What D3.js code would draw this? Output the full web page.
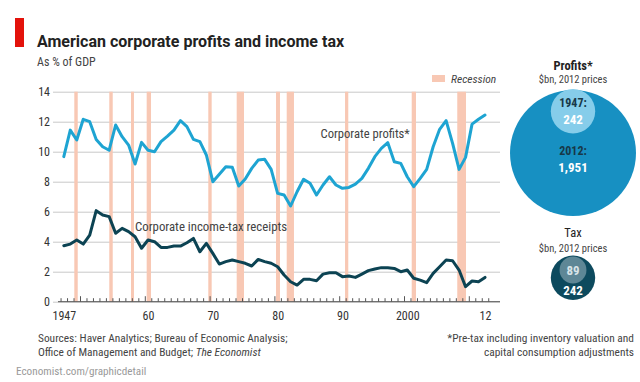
<!DOCTYPE html>
<html><head><meta charset="utf-8">
<script src="https://cdn.jsdelivr.net/npm/d3@7"></script>
<style>
html,body{margin:0;padding:0;background:#fff;}
svg{display:block;}
text{font-family:"Liberation Sans Narrow","Roboto Condensed","DejaVu Sans Condensed",Roboto,sans-serif;}
</style></head>
<body><svg id="c" width="640" height="382"></svg>
<script>
const years = [1947,1948,1949,1950,1951,1952,1953,1954,1955,1956,1957,1958,1959,1960,1961,1962,1963,1964,1965,1966,1967,1968,1969,1970,1971,1972,1973,1974,1975,1976,1977,1978,1979,1980,1981,1982,1983,1984,1985,1986,1987,1988,1989,1990,1991,1992,1993,1994,1995,1996,1997,1998,1999,2000,2001,2002,2003,2004,2005,2006,2007,2008,2009,2010,2011,2012];
const profits = [9.67,11.44,10.78,12.16,12.0,10.82,10.33,10.1,11.78,11.0,10.44,9.18,10.62,10.1,10.0,10.67,11.04,11.44,12.07,11.67,10.82,10.67,9.78,8.0,8.49,9.0,8.96,7.71,8.18,8.89,9.44,9.49,8.82,7.22,7.11,6.38,7.33,8.16,7.89,7.11,7.78,8.33,7.78,7.56,7.62,7.84,8.22,8.89,9.67,10.22,10.6,9.33,9.22,8.33,7.67,8.22,8.82,10.33,11.49,12.07,10.56,8.82,9.62,11.84,12.16,12.44];
const taxReceipts = [3.73,3.84,4.11,3.84,4.44,6.07,5.78,5.67,4.56,4.89,4.67,4.33,3.56,4.11,4.0,3.62,3.62,3.71,3.71,3.93,4.22,3.33,3.89,3.22,2.51,2.67,2.78,2.67,2.56,2.38,2.82,2.67,2.56,2.33,1.78,1.33,1.11,1.49,1.49,1.4,1.84,1.93,1.93,1.67,1.71,1.62,1.84,2.07,2.18,2.27,2.27,2.22,2.0,2.11,1.56,1.44,1.27,1.89,2.33,2.78,2.73,2.11,1.0,1.38,1.33,1.62];
const recessionStart = [1949.12,1954.52,1957.87,1960.29,1969.8,1974.18,1980.25,1981.9,1990.9,2001.19,2008.22];
const recessionEnd   = [1949.65,1955.05,1958.33,1960.96,1970.32,1975.31,1980.86,1983.02,1991.4,2001.85,2009.57];
const yTicks = [0,2,4,6,8,10,12,14];
const xLabelYears = [1947,1960,1970,1980,1990,2000,2012];
const xLabelText = ["1947","60","70","80","90","2000","12"];
const circleLabels = ["1947:","2012:"];
const profitsBn = [242,1951];
const taxBn = [89,242];

const svg = d3.select("#c");
const x = d3.scaleLinear().domain([1950,2010]).range([80,468.8]);
const y = d3.scaleLinear().domain([0,14]).range([301.7,91.7]);
const L = 53, R = 500;
const NARROW = '"Liberation Sans Narrow","Roboto Condensed",Roboto,sans-serif';

// header
svg.append("rect").attr("x",15).attr("y",18).attr("width",9).attr("height",29).attr("fill","#e3120b");
svg.append("text").attr("x",37).attr("y",47).attr("font-size",16).attr("font-weight","bold").attr("fill","#222")
  .style("font-family","Roboto,sans-serif")
  .text("American corporate profits and income tax");
svg.append("text").attr("x",37).attr("y",66).attr("font-size",12).attr("fill","#444").text("As % of GDP");

// gridlines + y labels
const yAxis = d3.axisLeft(y).tickValues(yTicks).tickSize(-(R-L)).tickFormat(d3.format("d"));
const ga = svg.append("g").attr("transform",`translate(${L},0)`).call(yAxis);
ga.select(".domain").remove();
ga.selectAll(".tick line").attr("stroke","#c9c9c9").attr("stroke-width",1);
ga.selectAll(".tick text").attr("x",-3).attr("font-size",12).attr("fill","#333").style("font-family",NARROW);

// recession bars
svg.append("g").selectAll("rect").data(recessionStart).join("rect")
  .attr("x",(d)=>x(d)).attr("width",(d,i)=>x(recessionEnd[i])-x(d))
  .attr("y",y(14)).attr("height",y(0)-y(14)).attr("fill","#f8c8b4");

// x axis
svg.append("line").attr("x1",58).attr("x2",R).attr("y1",y(0)).attr("y2",y(0)).attr("stroke","#555").attr("stroke-width",1);
const tickYears = d3.range(1947,2014);
const xt = svg.append("g").attr("transform",`translate(0,${y(0)})`)
  .call(d3.axisTop(x).tickValues(tickYears).tickSize(3).tickFormat(""));
xt.select(".domain").remove();
xt.selectAll(".tick line").attr("stroke","#555").attr("y2",(d)=>d%10===0?-5.5:-3.5);
const xl = svg.append("g").attr("transform",`translate(0,${y(0)})`)
  .call(d3.axisBottom(x).tickValues(xLabelYears.map(d=>d+0.5)).tickSize(0).tickPadding(10)
    .tickFormat((d,i)=>xLabelText[i]));
xl.select(".domain").remove();
xl.selectAll("text").attr("font-size",12).attr("fill","#333").style("font-family",NARROW);

// lines
const line = d3.line().x((d,i)=>x(years[i]+0.5)).y(d=>y(d)).curve(d3.curveLinear);
svg.append("path").datum(profits).attr("d",line).attr("fill","none").attr("stroke","#1ea4d2")
  .attr("stroke-width",3).attr("stroke-linejoin","round").attr("stroke-linecap","round");
svg.append("path").datum(taxReceipts).attr("d",line).attr("fill","none").attr("stroke","#0c4353")
  .attr("stroke-width",3).attr("stroke-linejoin","round").attr("stroke-linecap","round");

svg.append("text").attr("x",320.5).attr("y",138).attr("font-size",12.6).attr("fill","#444").text("Corporate profits*");
svg.append("text").attr("x",135).attr("y",231).attr("font-size",12.8).attr("fill","#444").text("Corporate income-tax receipts");

// legend
svg.append("rect").attr("x",432).attr("y",75).attr("width",13).attr("height",7).attr("fill","#f8c8b4");
svg.append("text").attr("x",451).attr("y",83).attr("font-size",11.5).attr("font-style","italic").attr("fill","#444").text("Recession");

// footer
svg.append("text").attr("x",38).attr("y",342).attr("font-size",11.4).attr("fill","#444").text("Sources: Haver Analytics; Bureau of Economic Analysis;");
const t2 = svg.append("text").attr("x",38).attr("y",356).attr("font-size",11.4).attr("fill","#444");
t2.append("tspan").text("Office of Management and Budget; ");
t2.append("tspan").attr("font-style","italic").text("The Economist");
svg.append("text").attr("x",16).attr("y",375).attr("font-size",11.2).attr("fill","#9a9a9a").text("Economist.com/graphicdetail");
svg.append("text").attr("x",634).attr("y",342).attr("font-size",11.4).attr("fill","#444").attr("text-anchor","end").text("*Pre-tax including inventory valuation and");
svg.append("text").attr("x",634).attr("y",356).attr("font-size",11.4).attr("fill","#444").attr("text-anchor","end").text("capital consumption adjustments");

// right panel: circles
const r = d3.scaleSqrt().domain([0,1951]).range([0,63]);
const cx = 573;
svg.append("text").attr("x",cx).attr("y",70).attr("text-anchor","middle").attr("font-size",12.5).attr("font-weight","bold").attr("fill","#222").text("Profits*");
svg.append("text").attr("x",cx).attr("y",83).attr("text-anchor","middle").attr("font-size",10.5).attr("fill","#444").text("$bn, 2012 prices");
const bigTop = 90;
svg.append("circle").attr("cx",cx).attr("cy",bigTop + r(profitsBn[1])).attr("r",r(profitsBn[1])).attr("fill","#1790c2");
svg.append("circle").attr("cx",cx).attr("cy",bigTop - 1 + r(profitsBn[0])).attr("r",r(profitsBn[0])).attr("fill","#86cdea");
svg.append("text").attr("x",cx).attr("y",107).attr("text-anchor","middle").attr("font-size",12).attr("font-weight","bold").attr("fill","#173848").text(circleLabels[0]);
svg.append("text").attr("x",cx).attr("y",124).attr("text-anchor","middle").attr("font-size",13).attr("font-weight","bold").attr("fill","#fff").text(d3.format(",")(profitsBn[0]));
svg.append("text").attr("x",cx).attr("y",155).attr("text-anchor","middle").attr("font-size",12).attr("font-weight","bold").attr("fill","#173848").text(circleLabels[1]);
svg.append("text").attr("x",cx).attr("y",172).attr("text-anchor","middle").attr("font-size",13).attr("font-weight","bold").attr("fill","#fff").text(d3.format(",")(profitsBn[1]));

svg.append("text").attr("x",cx).attr("y",237).attr("text-anchor","middle").attr("font-size",12.5).attr("fill","#222").text("Tax");
svg.append("text").attr("x",cx).attr("y",252).attr("text-anchor","middle").attr("font-size",10.5).attr("fill","#444").text("$bn, 2012 prices");
const taxTop = 255.5;
svg.append("circle").attr("cx",cx).attr("cy",taxTop + r(taxBn[1])).attr("r",r(taxBn[1])).attr("fill","#0d4a5e");
svg.append("circle").attr("cx",cx).attr("cy",taxTop + 1 + r(taxBn[0])).attr("r",r(taxBn[0])).attr("fill","#5e8796");
svg.append("text").attr("x",cx).attr("y",275).attr("text-anchor","middle").attr("font-size",13).attr("font-weight","bold").attr("fill","#d8e4e8").text(taxBn[0]);
svg.append("text").attr("x",cx).attr("y",295).attr("text-anchor","middle").attr("font-size",13).attr("font-weight","bold").attr("fill","#fff").text(taxBn[1]);
</script></body></html>
